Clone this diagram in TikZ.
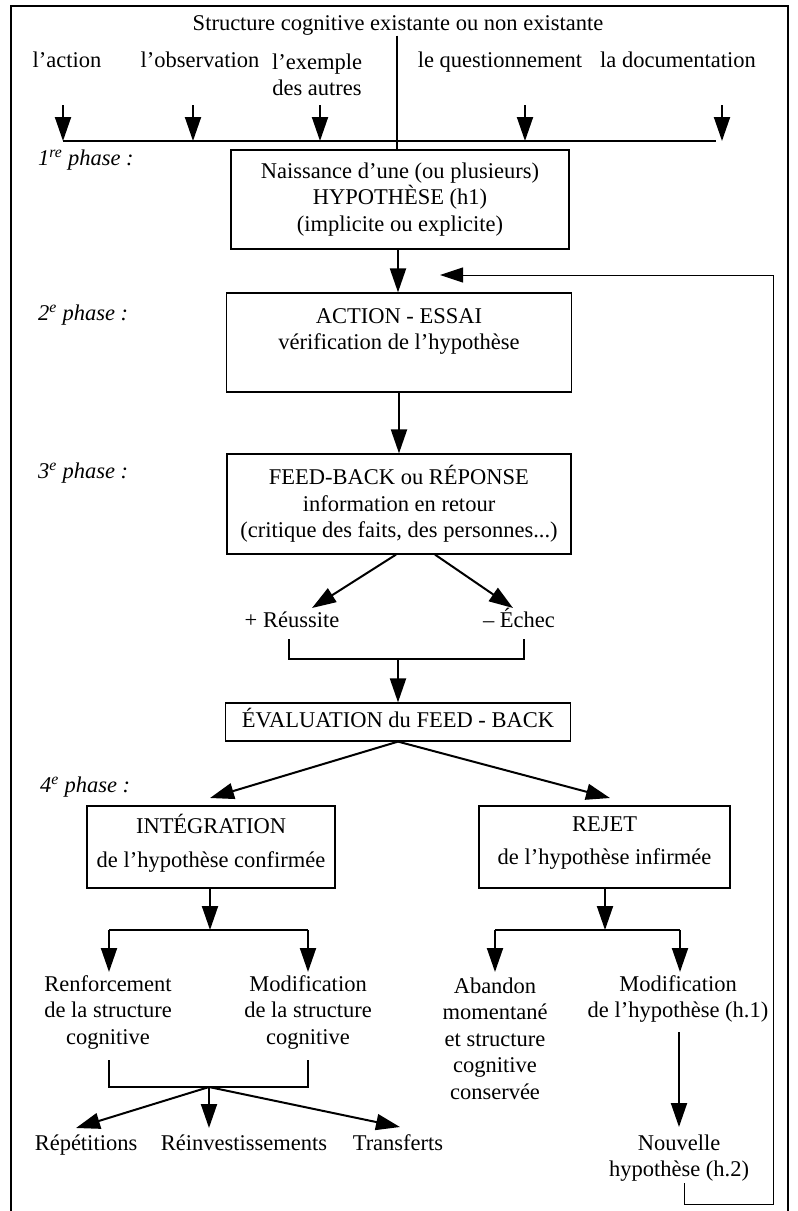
\documentclass[tikz,border=0pt]{standalone}
\usepackage{fontspec}
\setmainfont{Liberation Serif}
\usetikzlibrary{arrows.meta}
\begin{document}
\begin{tikzpicture}[x=1pt,y=-1pt,
  every node/.style={font=\fontsize{22.5}{26.5}\selectfont, inner sep=0pt, align=center},
  one/.style={text height=16pt, text depth=5pt},
  box/.style={draw, line width=1.2pt},
  arr/.style={line width=2pt, -{Triangle[length=24pt,width=16pt]}},
  thickline/.style={line width=2pt},
  fbline/.style={line width=1pt, -{Triangle[length=23pt,width=15pt]}},
  phase/.style={anchor=west, one, font=\fontsize{22.5}{26.5}\selectfont\itshape}]
\useasboundingbox (0,0) rectangle (798,1211);
% frame
\draw[line width=1.2pt] (11,1211) -- (11,6) -- (788,6) -- (788,1211);

% top
\node[one] (title) at (398,25) {Structure cognitive existante ou non existante};
\node[one] (lab1) at (67,62) {l’action};
\node[one] (lab2) at (200,62) {l’observation};
\node (lab3) at (317,75) {l’exemple\\des autres};
\node[one] (lab4) at (500,62) {le questionnement};
\node[one] (lab5) at (678,62) {la documentation};

\coordinate (barL) at (63,141);
\coordinate (barR) at (716,141);
\draw[thickline] (barL) -- (barR);
\foreach \x/\n in {63/1,193/2,320/3,525/4,722/5}{
  \coordinate (s\n) at (\x,105);
  \coordinate (t\n) at (\x,141);
  \draw[arr] (s\n) -- (t\n);
}

% phases
\node[phase] (p1) at (38,160) {1\textsuperscript{re} phase :};
\node[phase] (p2) at (38,315) {2\textsuperscript{e} phase :};
\node[phase] (p3) at (38,473) {3\textsuperscript{e} phase :};
\node[phase] (p4) at (40,787) {4\textsuperscript{e} phase :};

% main column
\node[box, minimum width=338pt, minimum height=99pt] (h1) at (400,199.5)
  {Naissance d’une (ou plusieurs)\\HYPOTHÈSE (h1)\\(implicite ou explicite)};
\draw[thickline] (title.south -| 397,0) -- (397,150);
\node[box, minimum width=345pt, minimum height=99pt] (h2) at (399,342.5)
  {ACTION - ESSAI\\vérification de l’hypothèse\\\mbox{}};
\node[box, minimum width=344pt, minimum height=100pt] (fb) at (399,504)
  {FEED-BACK ou RÉPONSE\\information en retour\\(critique des faits, des personnes...)};
\draw[arr] (h1.south -| 398,0) -- (h2.north -| 398,0);
\draw[arr] (h2.south) -- (fb.north);

\node[one] (reu) at (292,622) {+ Réussite};
\node[one] (ech) at (519,622) {– Échec};
\coordinate (rtip) at (312,608);
\coordinate (etip) at (513,608);
\draw[arr] ([xshift=-3pt]fb.south) -- (rtip);
\draw[arr] ([xshift=36pt]fb.south) -- (etip);

\coordinate (b1L) at (289,639);
\coordinate (b1R) at (524,639);
\coordinate (b1M) at (398,659);
\draw[thickline] (b1L) -- (b1L |- b1M) -- (b1R |- b1M) -- (b1R);

\node[box, one, minimum width=345pt, minimum height=38pt] (ev) at (398,722) {ÉVALUATION du FEED - BACK};
\draw[arr] (b1M) -- (ev.north);

% phase 4
\node[box, minimum width=248pt, minimum height=82pt] (integ) at (211,847)
  {INTÉGRATION\\[7pt]de l’hypothèse confirmée\\[-14pt]\mbox{}};
\node[box, minimum width=251pt, minimum height=82pt] (rej) at (604.5,847)
  {REJET\\[7pt]de l’hypothèse infirmée\\[-14pt]\mbox{}};
\coordinate (itip) at (210,798);
\coordinate (jtip) at (610,798);
\draw[arr] (ev.south) -- (itip);
\draw[arr] (ev.south) -- (jtip);

% left branch
\node (renf) at (108,1012) {Renforcement\\de la structure\\cognitive};
\node (mod1) at (308,1012) {Modification\\de la structure\\cognitive};
\coordinate (j1) at (210,930);
\coordinate (j1L) at (109,930);
\coordinate (j1R) at (308,930);
\draw[arr] (integ.south -| j1) -- (j1);
\draw[thickline] (j1L) -- (j1R);
\draw[arr] (j1L) -- (109,972);
\draw[arr] (j1R) -- (308,972);

\coordinate (c1L) at (109,1060);
\coordinate (c1R) at (308,1060);
\coordinate (c1M) at (209,1087);
\draw[thickline] (c1L) -- (c1L |- c1M) -- (c1R |- c1M) -- (c1R);
\node[one] (rep) at (86,1145) {Répétitions};
\node[one] (rei) at (244,1145) {Réinvestissements};
\node[one] (tra) at (398,1145) {Transferts};
\coordinate (rept) at (76,1128);
\coordinate (reit) at (209,1128);
\coordinate (trat) at (400,1127);
\draw[arr] (c1M) -- (rept);
\draw[arr] (c1M) -- (reit);
\draw[arr] (c1M) -- (trat);

% right branch
\node (aba) at (495,1038.5) {Abandon\\momentané\\et structure\\cognitive\\conservée};
\node (mod2) at (678,999) {Modification\\de l’hypothèse (h.1)};
\coordinate (k1) at (605,930);
\coordinate (k1L) at (495,930);
\coordinate (k1R) at (680,930);
\draw[arr] (rej.south -| k1) -- (k1);
\draw[thickline] (k1L) -- (k1R);
\draw[arr] (k1L) -- (495,972);
\draw[arr] (k1R) -- (680,972);

\node (nouv) at (679,1158) {Nouvelle\\hypothèse (h.2)};
\coordinate (m2s) at (679,1032);
\coordinate (nvt) at (679,1127);
\draw[arr] (m2s) -- (nvt);

% feedback loop
\coordinate (fb0) at (684,1183);
\coordinate (fb1) at (440,275);
\draw[fbline] (fb0) -- (684,1204) -- (773,1204) -- (773,275) -- (fb1);
\end{tikzpicture}
\end{document}
